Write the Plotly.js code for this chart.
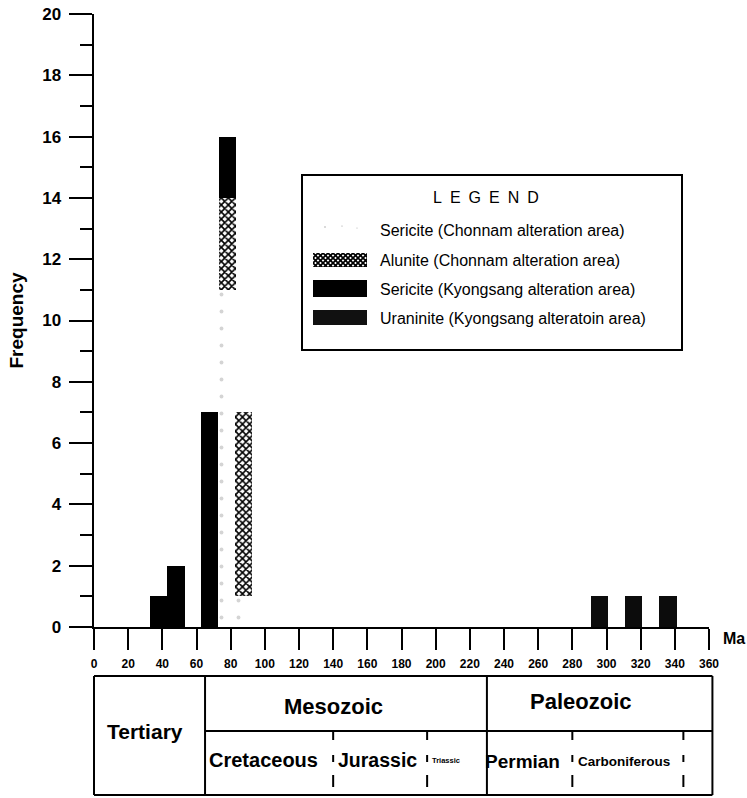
<!DOCTYPE html>
<html>
<head>
<meta charset="utf-8">
<script src="https://cdn.plot.ly/plotly-3.0.1.min.js"></script>
<style>html,body{margin:0;padding:0;background:#fff;}#chart{width:747px;height:798px;}</style>
</head>
<body>
<div id="chart"></div>
<script>
// ---- data (ages in Ma, frequency counts) ----
const sericiteChonnamAge = [78, 87.5];
const sericiteChonnamFreq = [11, 1];
const aluniteChonnamAge = [78, 87.5];
const aluniteChonnamFreq = [3, 6];
const sericiteKyongsangAge = [38, 48, 67.5, 78];
const sericiteKyongsangFreq = [1, 2, 7, 2];
const uraniniteKyongsangAge = [296, 316, 336];
const uraniniteKyongsangFreq = [1, 1, 1];

const seriesNames = [
  'Sericite (Chonnam alteration area)',
  'Alunite (Chonnam alteration area)',
  'Sericite (Kyongsang alteration area)',
  'Uraninite (Kyongsang alteratoin area)'
];

const xTickValues = [0,20,40,60,80,100,120,140,160,180,200,220,240,260,280,300,320,340,360];
const yTickValues = [0,2,4,6,8,10,12,14,16,18,20];

// geological time scale (Ma)
const eraNames = ['Tertiary', 'Mesozoic', 'Paleozoic'];
const periodNames = ['Cretaceous', 'Jurassic', 'Triassic', 'Permian', 'Carboniferous'];
const eraBoundaries = [65, 230];
const periodBoundaries = [140, 195, 280, 345];
const scaleEnd = 362;

// ---- layout helpers (pixel -> paper) ----
const ML = 94, MR = 38, MT = 14, MB = 171;
const W = 747, H = 798;
const PW = W - ML - MR, PH = H - MT - MB;
const PX = px => (px - ML) / PW;
const PY = py => (H - MB - py) / PH;
const FONT = 'Liberation Sans, Arial, Helvetica, sans-serif';

const barWidth = 10;
const traces = [
  {
    type: 'bar', name: seriesNames[0], x: sericiteChonnamAge, y: sericiteChonnamFreq, width: barWidth,
    marker: {color: 'white', line: {width: 0},
      pattern: {shape: '.', fgcolor: '#d4d4d4', bgcolor: 'white', size: 17, solidity: 0.04}},
    showlegend: false, hoverinfo: 'skip'
  },
  {
    type: 'bar', name: seriesNames[1], x: aluniteChonnamAge, y: aluniteChonnamFreq, width: barWidth,
    marker: {color: 'white', line: {width: 0},
      pattern: {shape: 'x', fgcolor: 'black', bgcolor: 'white', size: 5, solidity: 0.55}},
    showlegend: false, hoverinfo: 'skip'
  },
  {
    type: 'bar', name: seriesNames[2], x: sericiteKyongsangAge, y: sericiteKyongsangFreq, width: barWidth,
    marker: {color: '#000000', line: {width: 0}},
    showlegend: false, hoverinfo: 'skip'
  },
  {
    type: 'bar', name: seriesNames[3], x: uraniniteKyongsangAge, y: uraniniteKyongsangFreq, width: barWidth,
    marker: {color: '#0c0c0c', line: {width: 0}},
    showlegend: false, hoverinfo: 'skip'
  }
];

const shapes = [];
const annotations = [];
const images = [];

// ---- custom legend ----
shapes.push({type: 'rect', xref: 'paper', yref: 'paper',
  x0: PX(302), x1: PX(682), y0: PY(350), y1: PY(175),
  line: {color: 'black', width: 2}, fillcolor: 'rgba(0,0,0,0)'});
annotations.push({xref: 'paper', yref: 'paper', x: PX(486), y: PY(198),
  text: 'L\u2002E\u2002G\u2002E\u2002N\u2002D', showarrow: false, xanchor: 'center', yanchor: 'middle',
  font: {family: FONT, size: 16, color: 'black'}});
const legendRowY = [231, 260, 289, 318];
seriesNames.forEach((n, i) => {
  annotations.push({xref: 'paper', yref: 'paper', x: PX(378), y: PY(legendRowY[i]),
    text: n, showarrow: false, xanchor: 'left', yanchor: 'middle',
    font: {family: FONT, size: 16, color: 'black'}});
});
const dotSvg = "<svg xmlns='http://www.w3.org/2000/svg' width='54' height='14' viewBox='0 0 54 14'>" +
  "<circle cx='12' cy='3' r='0.7' fill='#9a9a9a'/><circle cx='29' cy='2' r='0.6' fill='#9a9a9a'/>" +
  "<circle cx='44' cy='4' r='0.6' fill='#b0b0b0'/></svg>";
const hatchSvg = "<svg xmlns='http://www.w3.org/2000/svg' width='54' height='14' viewBox='0 0 54 14'>" +
  "<defs><pattern id='h' width='5' height='5' patternUnits='userSpaceOnUse'>" +
  "<rect width='5' height='5' fill='white'/><path d='M0,0L5,5M5,0L0,5' stroke='black' stroke-width='1.7'/>" +
  "</pattern></defs><rect width='54' height='14' fill='url(#h)'/></svg>";
const svgURI = s => 'data:image/svg+xml;charset=utf-8,' + encodeURIComponent(s);
images.push({source: svgURI(dotSvg), xref: 'paper', yref: 'paper', x: PX(313), y: PY(224),
  sizex: 54 / PW, sizey: 14 / PH, xanchor: 'left', yanchor: 'top', sizing: 'stretch', layer: 'above'});
images.push({source: svgURI(hatchSvg), xref: 'paper', yref: 'paper', x: PX(313), y: PY(253),
  sizex: 54 / PW, sizey: 14 / PH, xanchor: 'left', yanchor: 'top', sizing: 'stretch', layer: 'above'});
shapes.push({type: 'rect', xref: 'paper', yref: 'paper', x0: PX(313), x1: PX(367), y0: PY(297), y1: PY(280),
  fillcolor: '#000', line: {width: 0}});
shapes.push({type: 'rect', xref: 'paper', yref: 'paper', x0: PX(313), x1: PX(367), y0: PY(325), y1: PY(310),
  fillcolor: '#111', line: {width: 0}});

// ---- "Ma" axis unit ----
annotations.push({xref: 'paper', yref: 'paper', x: PX(721), y: PY(638.5), text: 'Ma', showarrow: false,
  xanchor: 'left', yanchor: 'middle', font: {family: FONT, size: 16, weight: 'bold', color: 'black'}});

// ---- geological time-scale table ----
const tTop = PY(676), tMid = PY(731), tBot = PY(795);
const lineStyle = {color: 'black', width: 2};
const xs = v => v / 360; // data -> paper on x (range 0..360)
shapes.push({type: 'line', xref: 'paper', yref: 'paper', x0: 0, x1: xs(scaleEnd), y0: tTop, y1: tTop, line: lineStyle});
shapes.push({type: 'line', xref: 'paper', yref: 'paper', x0: 0, x1: xs(scaleEnd), y0: tBot, y1: tBot, line: lineStyle});
shapes.push({type: 'line', xref: 'paper', yref: 'paper', x0: 0, x1: 0, y0: tBot, y1: tTop, line: lineStyle});
shapes.push({type: 'line', xref: 'paper', yref: 'paper', x0: xs(scaleEnd), x1: xs(scaleEnd), y0: tBot, y1: tTop, line: lineStyle});
shapes.push({type: 'line', xref: 'paper', yref: 'paper', x0: xs(eraBoundaries[0]), x1: xs(scaleEnd), y0: tMid, y1: tMid, line: lineStyle});
eraBoundaries.forEach(b => {
  shapes.push({type: 'line', xref: 'paper', yref: 'paper', x0: xs(b), x1: xs(b), y0: tBot, y1: tTop, line: lineStyle});
});
periodBoundaries.forEach(b => {
  shapes.push({type: 'line', xref: 'paper', yref: 'paper', x0: xs(b), x1: xs(b), y0: tMid, y1: tBot,
    line: {color: 'black', width: 2, dash: '9px,15px,7px,13px,12px,30px'}});
});
const tableText = (txt, xData, yPx, size) => annotations.push({
  xref: 'paper', yref: 'paper', x: xs(xData), y: PY(yPx), text: txt, showarrow: false,
  xanchor: 'center', yanchor: 'middle', font: {family: FONT, size: size, weight: 'bold', color: 'black'}});
tableText(eraNames[0], 30, 731, 21);
tableText(eraNames[1], 140, 706, 22);
tableText(eraNames[2], 285, 701, 22);
tableText(periodNames[0], 99.5, 760, 20);
tableText(periodNames[1], 166, 760, 19.5);
tableText(periodNames[2], 206, 760, 7.5);
tableText(periodNames[3], 251, 761, 19);
tableText(periodNames[4], 310.5, 761, 13.5);

const layout = {
  width: W, height: H,
  margin: {l: ML, r: MR, t: MT, b: MB, pad: 0},
  paper_bgcolor: 'white', plot_bgcolor: 'white',
  barmode: 'stack', bargap: 0,
  showlegend: false,
  font: {family: FONT, color: 'black'},
  xaxis: {
    range: [0, 360], fixedrange: true, showgrid: false, zeroline: false,
    showline: true, linecolor: 'black', linewidth: 2,
    ticks: 'outside', ticklen: 21, tickwidth: 2, tickcolor: 'black',
    tickmode: 'array', tickvals: xTickValues, ticktext: xTickValues.map(String),
    ticklabelstandoff: 4,
    tickfont: {family: FONT, size: 12, weight: 'bold', color: 'black'}
  },
  yaxis: {
    range: [0, 20], fixedrange: true, showgrid: false, zeroline: false,
    showline: true, linecolor: 'black', linewidth: 2.5,
    ticks: 'outside', ticklen: 23, tickwidth: 2, tickcolor: 'black',
    tickmode: 'array', tickvals: yTickValues, ticktext: yTickValues.map(String),
    minor: {dtick: 1, tick0: 0, ticks: 'outside', ticklen: 12, tickwidth: 2, tickcolor: 'black', showgrid: false},
    ticklabelstandoff: 4,
    tickfont: {family: FONT, size: 17, weight: 'bold', color: 'black'},
    title: {text: 'Frequency', standoff: 14, font: {family: FONT, size: 19, weight: 'bold', color: 'black'}}
  },
  shapes: shapes,
  annotations: annotations,
  images: images
};

Plotly.newPlot('chart', traces, layout, {staticPlot: true, displayModeBar: false});
</script>
</body>
</html>
